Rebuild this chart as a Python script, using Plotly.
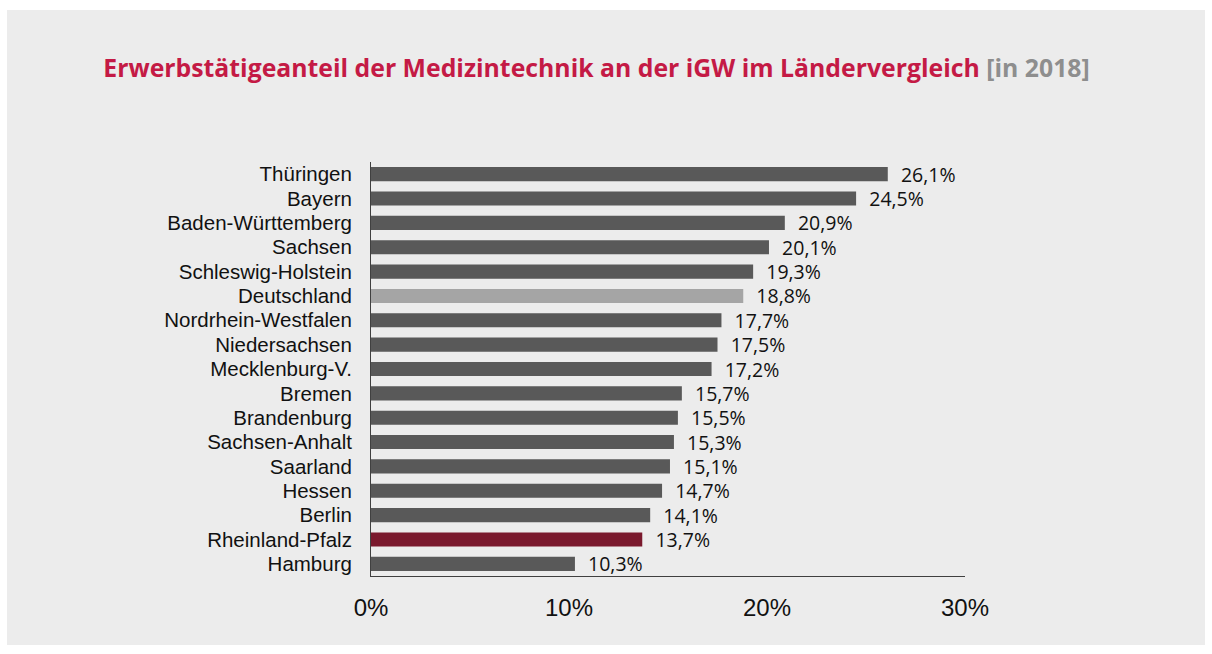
import plotly.graph_objects as go

laender = ["Thüringen", "Bayern", "Baden-Württemberg", "Sachsen", "Schleswig-Holstein",
           "Deutschland", "Nordrhein-Westfalen", "Niedersachsen", "Mecklenburg-V.", "Bremen",
           "Brandenburg", "Sachsen-Anhalt", "Saarland", "Hessen", "Berlin",
           "Rheinland-Pfalz", "Hamburg"]
anteile = [26.1, 24.5, 20.9, 20.1, 19.3, 18.8, 17.7, 17.5, 17.2, 15.7,
           15.5, 15.3, 15.1, 14.7, 14.1, 13.7, 10.3]
x_ticks = [0, 10, 20, 30]
x_tick_labels = ["0%", "10%", "20%", "30%"]

farben = []
for land in laender:
    if land == "Deutschland":
        farben.append("#a5a5a5")
    elif land == "Rheinland-Pfalz":
        farben.append("#7a192d")
    else:
        farben.append("#595959")

labels = ["\u00a0\u00a0" + f"{v:.1f}".replace(".", ",") + "%" for v in anteile]

fig = go.Figure(go.Bar(
    x=anteile, y=laender, orientation="h",
    marker=dict(color=farben, line=dict(width=0)),
    text=labels, textposition="outside", cliponaxis=False,
    constraintext="none",
    textfont=dict(family="Open Sans", size=19.5, color="#111111"),
    width=0.58,
))

W, H = 1212, 654
ml, mr, mt, mb = 371, 247, 162, 78
pw, ph = W - ml - mr, H - mt - mb

def px2paper_x(px):
    return (px - ml) / pw

def px2paper_y(py):
    return (H - mb - py) / ph

fig.add_shape(type="rect", xref="paper", yref="paper", layer="below",
              x0=px2paper_x(7), x1=px2paper_x(1205),
              y0=px2paper_y(645), y1=px2paper_y(10),
              fillcolor="#ececec", line=dict(width=0))

fig.update_layout(
    width=W, height=H,
    margin=dict(l=ml, r=mr, t=mt, b=mb, pad=0),
    paper_bgcolor="white",
    plot_bgcolor="rgba(0,0,0,0)",
    showlegend=False,
    title=dict(
        text="<b>Erwerbstätigeanteil der Medizintechnik an der iGW im Ländervergleich</b> "
             "<b><span style='color:#8e8e8e'>[in 2018]</span></b>",
        font=dict(family="Open Sans", size=24.8, color="#c41a45"),
        x=596.5 / W, xref="container", xanchor="center",
        y=1 - 68 / H, yref="container", yanchor="middle",
    ),
    xaxis=dict(
        range=[0, 30], tickvals=x_ticks, ticktext=x_tick_labels,
        showgrid=False, zeroline=False,
        showline=True, linecolor="#404040", linewidth=1,
        ticks="outside", ticklen=10, tickcolor="rgba(0,0,0,0)",
        tickfont=dict(family="Liberation Sans", size=24, color="#111111"),
    ),
    yaxis=dict(
        categoryorder="array", categoryarray=laender, autorange="reversed",
        tickmode="array", tickvals=laender, ticktext=laender,
        showgrid=False, zeroline=False,
        showline=True, linecolor="#404040", linewidth=1,
        ticks="outside", ticklen=14, tickcolor="rgba(0,0,0,0)",
        tickfont=dict(family="Liberation Sans", size=20.5, color="#111111"),
    ),
    bargap=0.42,
)

fig.write_html("out.html", config={"displayModeBar": False},
               post_script="document.body.style.margin='0px';")
